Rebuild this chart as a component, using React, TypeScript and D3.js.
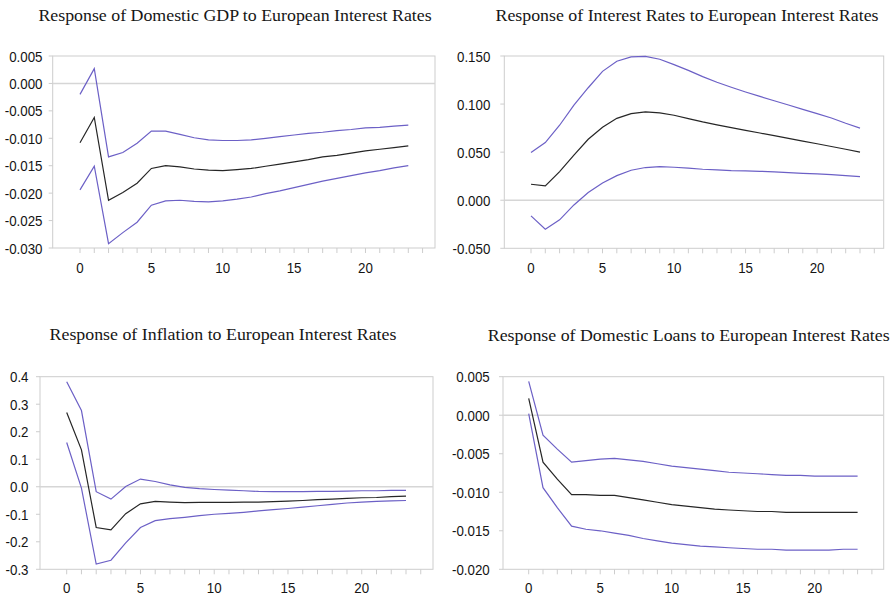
import React from "react";
import * as d3 from "d3";

// Impulse-response horizons
const horizons: number[] = d3.range(0, 24);

// Response of Domestic GDP
const gdpUpper = [-0.002, 0.0027, -0.0134, -0.0126, -0.0109, -0.0087, -0.0087, -0.0093, -0.0099, -0.0103, -0.0104, -0.0104, -0.0103, -0.01, -0.0097, -0.0094, -0.0091, -0.0089, -0.0086, -0.0084, -0.0081, -0.008, -0.0078, -0.0076];
const gdpMid = [-0.0108, -0.0062, -0.0213, -0.0199, -0.0182, -0.0155, -0.015, -0.0152, -0.0156, -0.0158, -0.0159, -0.0157, -0.0155, -0.0151, -0.0147, -0.0143, -0.0139, -0.0134, -0.0131, -0.0127, -0.0123, -0.012, -0.0117, -0.0114];
const gdpLower = [-0.0194, -0.0151, -0.0292, -0.0272, -0.0253, -0.0222, -0.0214, -0.0213, -0.0215, -0.0216, -0.0214, -0.0211, -0.0207, -0.0201, -0.0196, -0.019, -0.0184, -0.0178, -0.0173, -0.0168, -0.0163, -0.0159, -0.0154, -0.015];

// Response of Interest Rates
const rateUpper = [0.0496, 0.06, 0.078, 0.099, 0.117, 0.134, 0.1445, 0.149, 0.1497, 0.1466, 0.141, 0.135, 0.1285, 0.1227, 0.1175, 0.1126, 0.108, 0.1035, 0.099, 0.0945, 0.09, 0.0855, 0.08, 0.075];
const rateMid = [0.0166, 0.0149, 0.0298, 0.047, 0.0634, 0.0759, 0.0852, 0.09, 0.0918, 0.0908, 0.0884, 0.0849, 0.0814, 0.0783, 0.0755, 0.0727, 0.0699, 0.0671, 0.0643, 0.0615, 0.0587, 0.0559, 0.053, 0.05];
const rateLower = [-0.0163, -0.0301, -0.0204, -0.0049, 0.008, 0.018, 0.0256, 0.0312, 0.034, 0.035, 0.0343, 0.0333, 0.0322, 0.0315, 0.0308, 0.0305, 0.0301, 0.0295, 0.0288, 0.028, 0.0274, 0.0267, 0.0256, 0.0246];

// Response of Inflation
const inflUpper = [0.382, 0.277, -0.018, -0.045, 0.001, 0.028, 0.019, 0.007, -0.002, -0.007, -0.01, -0.012, -0.0145, -0.017, -0.018, -0.018, -0.018, -0.017, -0.017, -0.016, -0.0145, -0.0145, -0.013, -0.013];
const inflMid = [0.27, 0.134, -0.148, -0.157, -0.098, -0.062, -0.053, -0.056, -0.058, -0.057, -0.057, -0.057, -0.056, -0.056, -0.054, -0.052, -0.05, -0.047, -0.045, -0.042, -0.04, -0.039, -0.036, -0.034];
const inflLower = [0.161, -0.005, -0.281, -0.267, -0.204, -0.148, -0.123, -0.116, -0.111, -0.105, -0.1, -0.097, -0.093, -0.088, -0.083, -0.079, -0.074, -0.069, -0.064, -0.059, -0.056, -0.053, -0.051, -0.05];

// Response of Domestic Loans
const loanUpper = [0.0044, -0.0026, -0.0044, -0.0061, -0.0059, -0.0057, -0.0056, -0.0058, -0.006, -0.0063, -0.0066, -0.0068, -0.007, -0.0072, -0.0074, -0.0075, -0.0076, -0.0077, -0.0078, -0.0078, -0.0079, -0.0079, -0.0079, -0.0079];
const loanMid = [0.0022, -0.0061, -0.0083, -0.0103, -0.0103, -0.0104, -0.0104, -0.0107, -0.011, -0.0113, -0.0116, -0.0118, -0.012, -0.0122, -0.0123, -0.0124, -0.0125, -0.0125, -0.0126, -0.0126, -0.0126, -0.0126, -0.0126, -0.0126];
const loanLower = [0.0002, -0.0094, -0.012, -0.0144, -0.0148, -0.015, -0.0153, -0.0156, -0.016, -0.0163, -0.0166, -0.0168, -0.017, -0.0171, -0.0172, -0.0173, -0.0174, -0.0174, -0.0175, -0.0175, -0.0175, -0.0175, -0.0174, -0.0174];

// Axis ticks
const gdpTicks = [0.005, 0.0, -0.005, -0.01, -0.015, -0.02, -0.025, -0.03];
const rateTicks = [0.15, 0.1, 0.05, 0.0, -0.05];
const inflTicks = [0.4, 0.3, 0.2, 0.1, 0.0, -0.1, -0.2, -0.3];
const loanTicks = [0.005, 0.0, -0.005, -0.01, -0.015, -0.02];
const xTickLabels = [0, 5, 10, 15, 20];

const titles = [
  "Response of Domestic GDP to European Interest Rates",
  "Response of Interest Rates to European Interest Rates",
  "Response of Inflation to European Interest Rates",
  "Response of Domestic Loans to European Interest Rates",
];

const BAND = "#6c60c6";
const MID = "#262626";
const FRAME = "#cdcdcd";

type PanelProps = {
  title: string;
  titleX: number;
  titleY: number;
  left: number;
  right: number;
  top: number;
  bottom: number;
  x0: number;
  x23: number;
  yDomain: [number, number];
  yTicks: number[];
  digits: number;
  labelX: number;
  xLabelY: number;
  upper: number[];
  mid: number[];
  lower: number[];
};

function fmt(v: number, digits: number): string {
  return v.toFixed(digits);
}

function Panel(p: PanelProps) {
  const x = d3.scaleLinear().domain([0, 23]).range([p.x0, p.x23]);
  const y = d3.scaleLinear().domain(p.yDomain).range([p.bottom, p.top]);
  const line = d3
    .line<number>()
    .x((_, i) => x(horizons[i]))
    .y((d) => y(d))
    .curve(d3.curveLinear);
  const minorX = d3.range(0, 25);
  return (
    <g>
      <text
        transform={`translate(${p.titleX},${p.titleY}) scale(1.05,1)`}
        textAnchor="middle"
        fontFamily="'Liberation Serif', 'Times New Roman', serif"
        fontSize={17}
        fill="#161616"
      >
        {p.title}
      </text>
      {/* frame */}
      <rect
        x={p.left}
        y={p.top}
        width={p.right - p.left}
        height={p.bottom - p.top}
        fill="none"
        stroke={FRAME}
        strokeWidth={1}
      />
      {/* zero line */}
      <line x1={p.left} x2={p.right} y1={y(0)} y2={y(0)} stroke="#d6d6d6" strokeWidth={1.6} />
      {/* y ticks and labels */}
      {p.yTicks.map((t) => (
        <g key={"y" + t}>
          <line x1={p.left - 4} x2={p.left} y1={y(t)} y2={y(t)} stroke={FRAME} />
          <text
            transform={`translate(${p.labelX},${y(t) + 5.5}) scale(0.86,1)`}
            textAnchor="end"
            fontFamily="'Liberation Sans', Arial, sans-serif"
            fontSize={15.5}
            fill="#141414"
          >
            {fmt(t, p.digits)}
          </text>
        </g>
      ))}
      {/* x ticks */}
      {minorX.map((t) => (
        <line key={"xt" + t} x1={x(t)} x2={x(t)} y1={p.bottom} y2={p.bottom + 5} stroke={FRAME} />
      ))}
      {xTickLabels.map((t) => (
        <text
          key={"xl" + t}
          transform={`translate(${x(t)},${p.xLabelY}) scale(0.86,1)`}
          textAnchor="middle"
          fontFamily="'Liberation Sans', Arial, sans-serif"
          fontSize={15.5}
          fill="#141414"
        >
          {t}
        </text>
      ))}
      <path d={line(p.upper) || ""} fill="none" stroke={BAND} strokeWidth={1.2} />
      <path d={line(p.mid) || ""} fill="none" stroke={MID} strokeWidth={1.2} />
      <path d={line(p.lower) || ""} fill="none" stroke={BAND} strokeWidth={1.2} />
    </g>
  );
}

export default function App() {
  return (
    <svg
      width={894}
      height={598}
      style={{ position: "absolute", left: 0, top: 0, background: "#fff" }}
    >
      <rect width={894} height={598} fill="#fff" />
      <Panel
        title={titles[0]}
        titleX={235}
        titleY={20.5}
        left={52.7}
        right={435}
        top={56}
        bottom={248}
        x0={80}
        x23={408.3}
        yDomain={[-0.03, 0.005]}
        yTicks={gdpTicks}
        digits={3}
        labelX={42.5}
        xLabelY={273}
        upper={gdpUpper}
        mid={gdpMid}
        lower={gdpLower}
      />
      <Panel
        title={titles[1]}
        titleX={687}
        titleY={20.5}
        left={504.3}
        right={883.7}
        top={56}
        bottom={248.3}
        x0={531}
        x23={860}
        yDomain={[-0.05, 0.15]}
        yTicks={rateTicks}
        digits={3}
        labelX={490.3}
        xLabelY={273}
        upper={rateUpper}
        mid={rateMid}
        lower={rateLower}
      />
      <Panel
        title={titles[2]}
        titleX={223}
        titleY={340}
        left={40}
        right={433}
        top={376.7}
        bottom={569.3}
        x0={66.7}
        x23={406}
        yDomain={[-0.3, 0.4]}
        yTicks={inflTicks}
        digits={1}
        labelX={28.5}
        xLabelY={593}
        upper={inflUpper}
        mid={inflMid}
        lower={inflLower}
      />
      <Panel
        title={titles[3]}
        titleX={688.7}
        titleY={340.5}
        left={503}
        right={883.7}
        top={376.7}
        bottom={569.3}
        x0={528.7}
        x23={857.6}
        yDomain={[-0.02, 0.005]}
        yTicks={loanTicks}
        digits={3}
        labelX={489.7}
        xLabelY={593}
        upper={loanUpper}
        mid={loanMid}
        lower={loanLower}
      />
    </svg>
  );
}
